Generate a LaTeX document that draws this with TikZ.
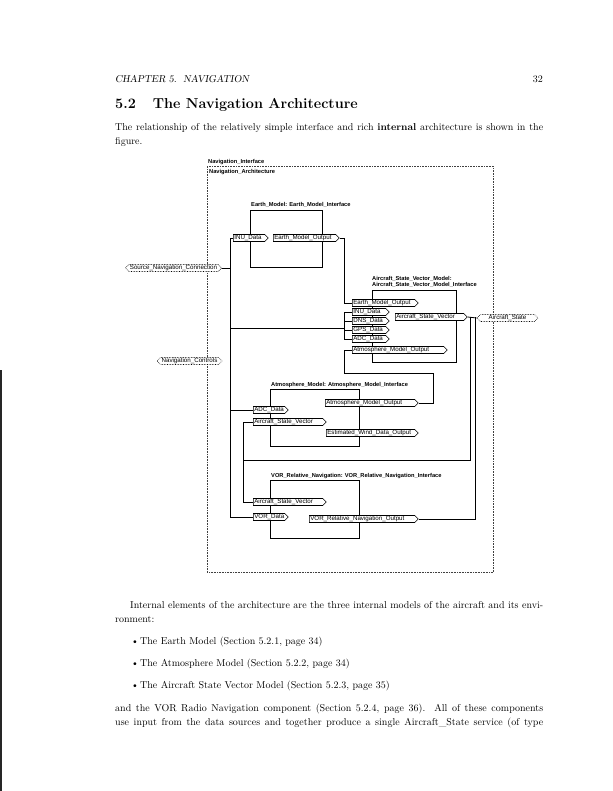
\documentclass[tikz,border=0pt]{standalone}
\usepackage{fontspec}
\newfontfamily\diagfam{Liberation Sans}
\newcommand\portfont{\diagfam\fontsize{6.2}{7}\selectfont}
\newcommand\titfont{\diagfam\bfseries\fontsize{5.7}{7}\selectfont}
\usetikzlibrary{shapes.symbols}
\begin{document}
\begin{tikzpicture}[x=1pt,y=-1pt,
  conn/.style={line width=0.8pt},
  cbox/.style={draw, line width=0.8pt, inner sep=0pt, anchor=north west},
  dbox/.style={draw=black!75, densely dotted, line width=0.6pt, inner sep=0pt, anchor=north west},
  ctitle/.style={font=\titfont, inner sep=0pt, anchor=base west},
  port/.style={signal, signal to=east, draw, line width=0.6pt, fill=white, inner xsep=1pt, inner ysep=0pt, minimum height=7pt, font=\portfont, anchor=west, align=left, text width=#1},
  pill/.style={signal, signal to=east and west, draw, densely dotted, line width=0.6pt, fill=white, inner xsep=1pt, inner ysep=0pt, minimum height=7pt, minimum width=#1, font=\portfont},
  body/.style={inner sep=0pt, anchor=base west, font=\fontsize{10}{14}\selectfont, align=left}]
\useasboundingbox (0,0) rectangle (612,791);
\fill[white] (0,0) rectangle (612,791);
\fill[black!85] (0,370) rectangle (1.5,791);

% page text (multi-line nodes are anchored at the baseline of their last line)
\node[body, font=\fontsize{10}{14}\selectfont\slshape] (hdr) at (115,83) {CHAPTER 5.\ \ NAVIGATION};
\node[inner sep=0pt, anchor=base east, font=\fontsize{10}{14}\selectfont] (pgno) at (543,83) {32};
\node[inner sep=0pt, anchor=base west, font=\fontsize{14.4}{18}\selectfont\bfseries] (ttl) at (115,109) {5.2\hspace{17pt}The Navigation Architecture};
\node[body] (p1) at (115,145) {\makebox[428pt][s]{The relationship of the relatively simple interface and rich \textbf{internal} architecture is shown in the}\\figure.};
\node[body] (p2) at (115,622) {\hspace*{15pt}\makebox[413pt][s]{Internal elements of the architecture are the three internal models of the aircraft and its envi-}\\ronment:};
\node[body] (b1) at (131,644) {\makebox[9pt][l]{\textbullet}The Earth Model (Section 5.2.1, page 34)};
\node[body] (b2) at (131,666) {\makebox[9pt][l]{\textbullet}The Atmosphere Model (Section 5.2.2, page 34)};
\node[body] (b3) at (131,688) {\makebox[9pt][l]{\textbullet}The Aircraft State Vector Model (Section 5.2.3, page 35)};
\node[body] (p3) at (115,725) {\makebox[428pt][s]{and the VOR Radio Navigation component (Section 5.2.4, page 36).\ \ All of these components}\\\makebox[428pt][s]{use input from the data sources and together produce a single Aircraft\_State service (of type}};

% outer interface box
\node[dbox, minimum width=286pt, minimum height=406pt] (outer) at (207,166) {};
\node[ctitle] (niT) at (208,164) {Navigation\_Interface};
\node[ctitle] (naT) at (209,174) {Navigation\_Architecture};

% component boxes
\node[cbox, minimum width=72pt, minimum height=57pt] (earth) at (250,210) {};
\node[ctitle] (earthT) at (251,207) {Earth\_Model: Earth\_Model\_Interface};
\node[cbox, minimum width=84pt, minimum height=72pt] (asvm) at (372,290) {};
\node[ctitle] (asvT1) at (372,280) {Aircraft\_State\_Vector\_Model:};
\node[ctitle] (asvT2) at (372,287) {Aircraft\_State\_Vector\_Model\_Interface};
\node[cbox, minimum width=89pt, minimum height=57pt] (atm) at (270,389) {};
\node[ctitle] (atmT) at (271,386) {Atmosphere\_Model: Atmosphere\_Model\_Interface};
\node[cbox, minimum width=89pt, minimum height=58pt] (vor) at (270,480) {};
\node[ctitle] (vorT) at (271,477) {VOR\_Relative\_Navigation: VOR\_Relative\_Navigation\_Interface};

% ports
\node[port=29.5pt] (inu1) at (233,238) {INU\_Data};
\node[port=60.5pt] (emo1) at (273,238) {Earth\_Model\_Output};
\node[port=60.5pt] (emo2) at (352,303) {Earth\_Model\_Output};
\node[port=31.5pt] (inu2) at (352,312) {INU\_Data};
\node[port=31.5pt] (dns) at (352,321) {DNS\_Data};
\node[port=31.5pt] (gps) at (352,330) {GPS\_Data};
\node[port=31.5pt] (adc2) at (352,339) {ADC\_Data};
\node[port=89.5pt] (amo2) at (352,350) {Atmosphere\_Model\_Output};
\node[port=66.5pt] (asv) at (395,317) {Aircraft\_State\_Vector};
\node[port=29.5pt] (adc3) at (253,410) {ADC\_Data};
\node[port=67.5pt] (asv3) at (253,422) {Aircraft\_State\_Vector};
\node[port=87.5pt] (amo3) at (325,403) {Atmosphere\_Model\_Output};
\node[port=86.5pt] (ewd) at (326,433) {Estimated\_Wind\_Data\_Output};
\node[port=67.5pt] (asv4) at (253,502) {Aircraft\_State\_Vector};
\node[port=29.5pt] (vord) at (253,517) {VOR\_Data};
\node[port=103.5pt] (vro) at (309,519) {VOR\_Relative\_Navigation\_Output};

% external connections
\node[pill=93pt] (src) at (173.5,268) {Source\_Navigation\_Connection};
\node[pill=65pt] (navc) at (189.5,361) {Navigation\_Controls};
\node[pill=61pt] (ast) at (507.5,318) {Aircraft\_State};

% bus coordinates
\coordinate (xA) at (230,0);
\coordinate (xB) at (344,0);
\coordinate (xD) at (243,0);
\coordinate (xC) at (470,0);
\coordinate (xE) at (475,0);
\coordinate (xF) at (433,0);
\coordinate (yG) at (0,328);
\coordinate (yH) at (0,460);
\coordinate (yK) at (0,373);

% connectors
\draw[conn] (src.east) -- (src.east -| xA);
\draw[conn] (inu1.west) -- (inu1.west -| xA) -- (vord.west -| xA) -- (vord.west);
\draw[conn] (adc3.west) -- (adc3.west -| xA);
\draw[conn] (xA |- yG) -- (xB |- yG);
\draw[conn] (inu2.west) -- (inu2.west -| xB) -- (adc2.west -| xB) -- (adc2.west);
\draw[conn] (dns.west) -- (dns.west -| xB);
\draw[conn] (gps.west) -- (gps.west -| xB);
\draw[conn] (emo1.east) -- (emo1.east -| xB) -- (emo2.west -| xB) -- (emo2.west);
\draw[conn] (amo3.east) -- (amo3.east -| xF) -- (xF |- yK) -- (xB |- yK) -- (amo2.west -| xB) -- (amo2.west);
\draw[conn] (asv.east) -- (ast.west);
\draw[conn] (asv.east -| xC) -- (xC |- yH) -- (xD |- yH);
\draw[conn] (asv3.west) -- (asv3.west -| xD) -- (asv4.west -| xD) -- (asv4.west);
\draw[conn] (vro.east) -- (vro.east -| xE) -- (asv.east -| xE);
\end{tikzpicture}
\end{document}
